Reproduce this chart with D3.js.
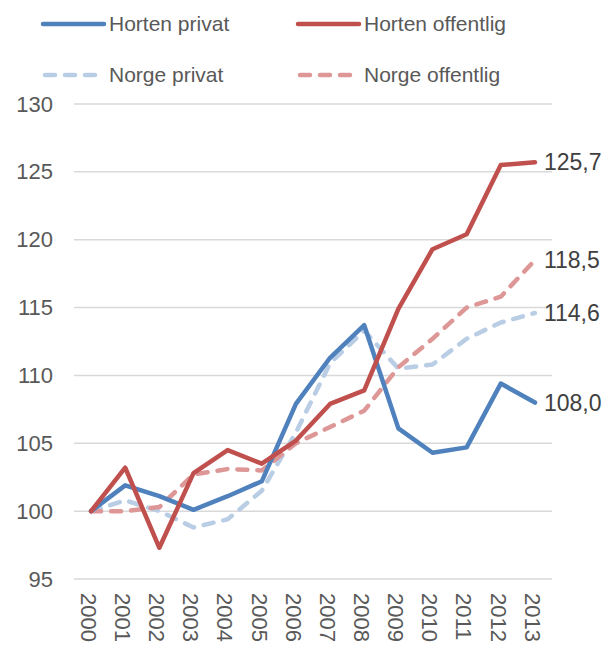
<!DOCTYPE html>
<html>
<head>
<meta charset="utf-8">
<script src="https://cdn.jsdelivr.net/npm/d3@7"></script>
<style>
  body { margin: 0; background: #fff; }
  svg { font-family: "Liberation Sans", Arial, sans-serif; }
  .grid line { stroke: #d9d9d9; stroke-width: 1.5; }
  .axis text { fill: #595959; font-size: 22px; }
  .axis path, .axis line { display: none; }
</style>
</head>
<body>
<svg id="chart" width="606" height="646"></svg>
<script>
// data
const years = ["2000","2001","2002","2003","2004","2005","2006","2007","2008","2009","2010","2011","2012","2013"];
const hortenPrivat    = [100, 101.9, 101.1, 100.1, 101.1, 102.2, 107.9, 111.3, 113.7, 106.1, 104.3, 104.7, 109.4, 108.0];
const hortenOffentlig = [100, 103.2, 97.3, 102.8, 104.5, 103.5, 105.2, 107.9, 108.9, 114.9, 119.3, 120.4, 125.5, 125.7];
const norgePrivat     = [100, 100.8, 100.0, 98.8, 99.4, 101.5, 105.8, 110.9, 113.3, 110.5, 110.8, 112.7, 113.9, 114.6];
const norgeOffentlig  = [100, 100.0, 100.3, 102.7, 103.1, 103.0, 105.0, 106.2, 107.4, 110.6, 112.7, 115.0, 115.8, 118.5];
const yTicks = [95, 100, 105, 110, 115, 120, 125, 130];

const series = [
    { name: "Horten privat", values: hortenPrivat, color: "#4f81bd", dash: null, label: "108,0" },
    { name: "Horten offentlig", values: hortenOffentlig, color: "#c0504d", dash: null, label: "125,7" },
    { name: "Norge privat", values: norgePrivat, color: "#b9cde5", dash: "10,10", label: "114,6" },
    { name: "Norge offentlig", values: norgeOffentlig, color: "#dd9796", dash: "10,10", label: "118,5" }
];

const svg = d3.select("#chart");
const margin = { top: 104, right: 54, bottom: 67, left: 74 };
const width = 606 - margin.left - margin.right;
const height = 646 - margin.top - margin.bottom;

const x = d3.scalePoint().domain(years).range([0, width]).padding(0.5);
const y = d3.scaleLinear().domain([95, 130]).range([height, 0]);

const g = svg.append("g").attr("transform", "translate(" + margin.left + "," + margin.top + ")");

// gridlines
g.append("g").attr("class", "grid")
    .selectAll("line").data(yTicks).join("line")
    .attr("x1", 0).attr("x2", width)
    .attr("y1", d => y(d)).attr("y2", d => y(d));

// y axis
const axisY = d3.axisLeft(y).tickValues(yTicks).tickSize(0).tickPadding(21);
g.append("g").attr("class", "axis axis-y").call(axisY);

// x axis, labels turned 90 degrees
const axisX = d3.axisBottom(x).tickSize(0).tickPadding(0);
const gx = g.append("g").attr("class", "axis axis-x")
    .attr("transform", "translate(0," + height + ")")
    .call(axisX);
gx.selectAll("text")
    .attr("transform", "rotate(90)")
    .attr("x", 14).attr("y", 3).attr("dy", "0.35em")
    .style("text-anchor", "start");

const line = d3.line()
    .x((d, i) => x(years[i]))
    .y(d => y(d));

// dashed lines first, solid ones on top
const order = [2, 3, 0, 1];
order.forEach(i => {
    const s = series[i];
    g.append("path")
        .datum(s.values)
        .attr("fill", "none")
        .attr("stroke", s.color)
        .attr("stroke-width", 4.5)
        .attr("stroke-linecap", "round")
        .attr("stroke-linejoin", "round")
        .attr("stroke-dasharray", s.dash)
        .attr("d", line);
});

// end labels
g.append("g").selectAll("text").data(series).join("text")
    .attr("x", x(years[years.length - 1]) + 9)
    .attr("y", d => y(d.values[d.values.length - 1]))
    .attr("dy", "0.35em")
    .attr("fill", "#404040")
    .style("font-size", "23px")
    .text(d => d.label);

// legend
const legendPos = [
    { x: 43, y: 24 }, { x: 298, y: 24 }, { x: 43, y: 75 }, { x: 298, y: 75 }
];
const legend = svg.append("g").selectAll("g").data(series).join("g")
    .attr("transform", (d, i) => "translate(" + legendPos[i].x + "," + legendPos[i].y + ")");
legend.append("line")
    .attr("x1", d => d.dash ? 2 : 0)
    .attr("x2", d => d.dash ? 52 : 61)
    .attr("y1", 0).attr("y2", 0)
    .attr("stroke", d => d.color)
    .attr("stroke-width", 4.5)
    .attr("stroke-linecap", "round")
    .attr("stroke-dasharray", d => d.dash);
legend.append("text")
    .attr("x", 66).attr("y", 0).attr("dy", "0.35em")
    .attr("fill", "#595959")
    .style("font-size", "21px")
    .text(d => d.name);
</script>
</body>
</html>
